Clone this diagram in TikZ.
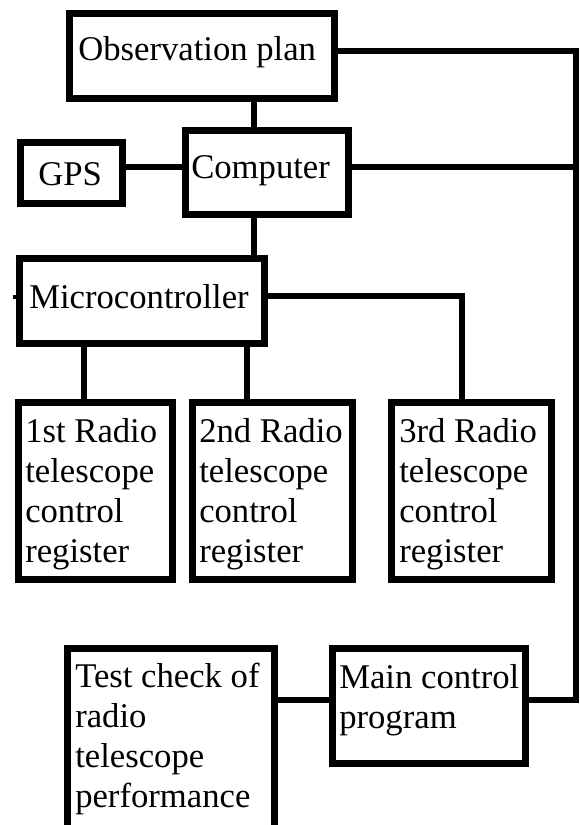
\documentclass[tikz,border=0pt]{standalone}
\usepackage{fontspec}
\setmainfont{Liberation Serif}
\usetikzlibrary{fit}
\begin{document}
\begin{tikzpicture}[x=0.75pt,y=-0.75pt,
  box/.style={draw=black, line width=4.9pt, inner sep=0pt, rectangle},
  conn/.style={draw=black, line width=4.9pt},
  txt/.style={anchor=base west, inner sep=0pt, font=\fontsize{26}{30}\selectfont}]
\useasboundingbox (0,0) rectangle (579,825);
% boxes
\node[box, fit={(69.25,13.25) (334.75,98.75)}] (obs) {};
\node[box, fit={(185.25,130.25) (348.75,214.75)}] (comp) {};
\node[box, fit={(20.25,142.25) (122.75,203.75)}] (gps) {};
\node[box, fit={(19.25,258.25) (264.75,343.75)}] (micro) {};
\node[box, fit={(18.25,402.25) (172.75,579.75)}] (r1) {};
\node[box, fit={(192.25,402.25) (352.75,579.75)}] (r2) {};
\node[box, fit={(391.25,402.25) (551.75,579.75)}] (r3) {};
\node[box, fit={(67.25,648.25) (274.75,840)}] (test) {};
\node[box, fit={(332.25,648.25) (525.75,763.75)}] (main) {};
% texts
\node[txt] (obs-t) at (78,60) {Observation plan};
\node[txt] (comp-t) at (191,178) {Computer};
\node[txt] (gps-t) at (38,185) {GPS};
\node[txt] (micro-t) at (29,308) {Microcontroller};
\node[txt] (r1-t) at (25,442) {\begin{tabular}[t]{@{}l@{}}1st Radio\\telescope\\control\\register\end{tabular}};
\node[txt] (r2-t) at (199,442) {\begin{tabular}[t]{@{}l@{}}2nd Radio\\telescope\\control\\register\end{tabular}};
\node[txt] (r3-t) at (399,442) {\begin{tabular}[t]{@{}l@{}}3rd Radio\\telescope\\control\\register\end{tabular}};
\node[txt] (test-t) at (75,687) {\begin{tabular}[t]{@{}l@{}}Test check of\\radio\\telescope\\performance\end{tabular}};
\node[txt] (main-t) at (339,688) {\begin{tabular}[t]{@{}l@{}}Main control\\program\end{tabular}};
% guide coordinates
\coordinate (xa) at (254,0);
\coordinate (x1) at (84,0);
\coordinate (x2) at (247,0);
\coordinate (x3) at (462,0);
\coordinate (xr) at (576,0);
\coordinate (yobs) at (0,51);
\coordinate (ycomp) at (0,167);
\coordinate (ymic) at (0,296);
\coordinate (ymain) at (0,700);
\coordinate (stub) at (13,297);
% connectors
\draw[conn] (xa |- obs.south) -- (xa |- comp.north);
\draw[conn] (gps.east |- ycomp) -- (comp.west |- ycomp);
\draw[conn] (comp.east |- ycomp) -- (xr |- ycomp);
\draw[conn] (obs.east |- yobs) -- (xr |- yobs) -- (xr |- ymain) -- (main.east |- ymain);
\draw[conn] (xa |- comp.south) -- (xa |- micro.north);
\draw[conn] (x1 |- micro.south) -- (x1 |- r1.north);
\draw[conn] (x2 |- micro.south) -- (x2 |- r2.north);
\draw[conn] (micro.east |- ymic) -- (x3 |- ymic) -- (x3 |- r3.north);
\draw[conn] (test.east |- ymain) -- (main.west |- ymain);
\draw[black, line width=3pt] (micro.west |- stub) -- (stub);
\end{tikzpicture}
\end{document}
